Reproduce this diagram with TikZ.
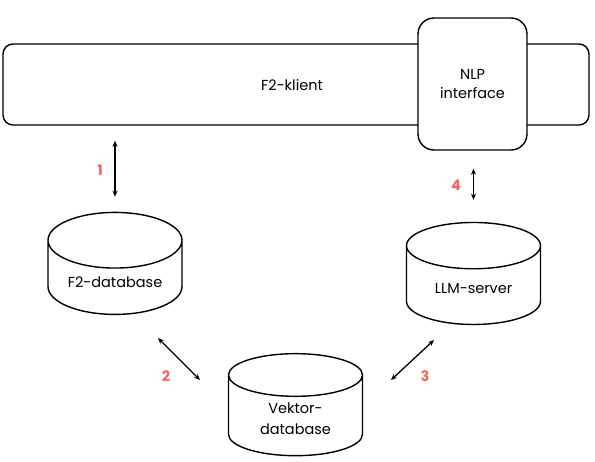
\documentclass[tikz,border=0pt]{standalone}
\usepackage{fontspec}
\setmainfont{Poppins}
\usepackage{tikz}
\usetikzlibrary{shapes.geometric,arrows.meta,positioning,calc}
\definecolor{numred}{HTML}{F2685C}

\tikzset{
    box/.style={draw, line width=1.4pt, rounded corners=10pt, fill=white, align=center, font=\fontsize{14.5}{19}\selectfont},
    dbase/.style={cylinder, shape border rotate=90, aspect=0.55, draw, line width=1.4pt, fill=white,
        minimum width=134pt, minimum height=102pt, align=center, font=\fontsize{14.5}{21}\selectfont},
    link/.style={{Stealth[length=6pt,width=5pt]}-{Stealth[length=6pt,width=5pt]}, line width=1.3pt},
    num/.style={text=numred, font=\fontsize{14.5}{17}\selectfont\bfseries}
}

\begin{document}
\begin{tikzpicture}[x=1pt,y=-1pt]
    \useasboundingbox (0,0) rectangle (595,461);

    % Client with NLP interface on top
    \node[box, minimum width=586pt, minimum height=81pt] (client) at (296,84.5) {};
    \node[font=\fontsize{14.5}{19}\selectfont] (clientlbl) at (292,85) {F2-klient};
    \node[box, rounded corners=16pt, minimum width=109pt, minimum height=132pt] (nlp) at (472.5,84) {NLP\\interface};

    % Databases
    \node[dbase] (f2db) at (115,282) {F2-database};
    \node[dbase] (llm) at (473.5,289) {LLM-server};
    \node[dbase] (vdb) at (295.5,419) {Vektor-\\database};

    % Links
    \draw[link, shorten <=15pt, shorten >=15pt] (client.south -| f2db.north) -- (f2db.north);
    \draw[link, shorten <=18pt, shorten >=22pt] (nlp.south -| llm.north) -- (llm.north);
    \draw[link] ([shift={(43,56)}]f2db.center) -- ([shift={(-95.5,-39)}]vdb.center);
    \draw[link] ([shift={(-39.5,51)}]llm.center) -- ([shift={(95.5,-39)}]vdb.center);

    % Step numbers
    \node[num] (n1) at (100,170) {1};
    \node[num] (n2) at (166,376) {2};
    \node[num] (n3) at (425,376) {3};
    \node[num] (n4) at (456,185) {4};
\end{tikzpicture}
\end{document}
